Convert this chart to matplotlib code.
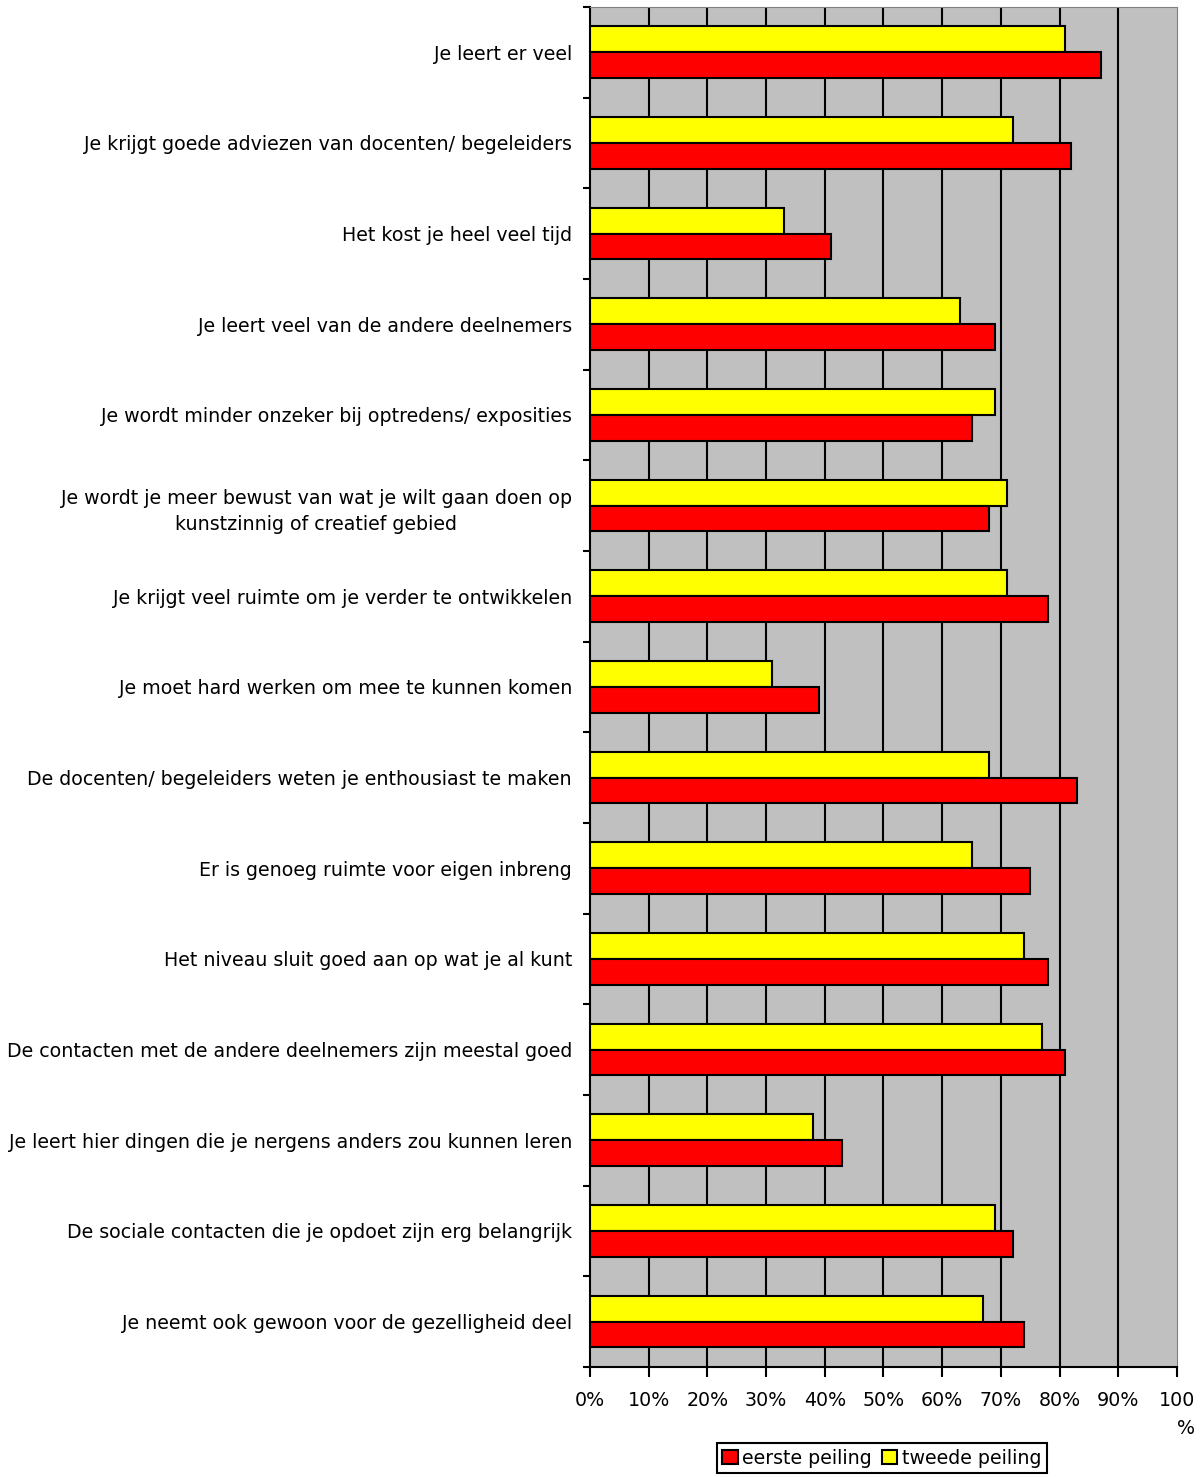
import numpy as np
import matplotlib.pyplot as plt
from matplotlib.patches import Patch

# Statements (top to bottom as in the chart)
statements = [
    "Je leert er veel",
    "Je krijgt goede adviezen van docenten/ begeleiders",
    "Het kost je heel veel tijd",
    "Je leert veel van de andere deelnemers",
    "Je wordt minder onzeker bij optredens/ exposities",
    "Je wordt je meer bewust van wat je wilt gaan doen op\nkunstzinnig of creatief gebied",
    "Je krijgt veel ruimte om je verder te ontwikkelen",
    "Je moet hard werken om mee te kunnen komen",
    "De docenten/ begeleiders weten je enthousiast te maken",
    "Er is genoeg ruimte voor eigen inbreng",
    "Het niveau sluit goed aan op wat je al kunt",
    "De contacten met de andere deelnemers zijn meestal goed",
    "Je leert hier dingen die je nergens anders zou kunnen leren",
    "De sociale contacten die je opdoet zijn erg belangrijk",
    "Je neemt ook gewoon voor de gezelligheid deel",
]

# Percentages per measurement
eerste = [87, 82, 41, 69, 65, 68, 78, 39, 83, 75, 78, 81, 43, 72, 74]
tweede = [81, 72, 33, 63, 69, 71, 71, 31, 68, 65, 74, 77, 38, 69, 67]

x_ticks = [0, 10, 20, 30, 40, 50, 60, 70, 80, 90, 100]
x_ticklabels = ["0%", "10%", "20%", "30%", "40%", "50%", "60%", "70%", "80%", "90%", "100\n%"]

fs = 13.7

fig = plt.figure(figsize=(12.03, 14.77), dpi=100)
ax = fig.add_axes([0.4904, 0.0745, 0.4880, 0.9208])
ax.set_facecolor('#c0c0c0')

pos = np.arange(len(statements))
h = 0.285

ax.barh(pos - h / 2, tweede, height=h, color='#ffff00', edgecolor='black', linewidth=1.5, zorder=3)
ax.barh(pos + h / 2, eerste, height=h, color='#ff0000', edgecolor='black', linewidth=1.5, zorder=3)

ax.set_xlim(0, 100)
ax.set_ylim(len(statements) - 0.5, -0.5)

# Vertical black gridlines
for xv in x_ticks[1:-1]:
    ax.axvline(xv, color='black', linewidth=1.5, zorder=1)

ax.set_xticks(x_ticks)
ax.set_xticklabels(x_ticklabels, fontsize=fs, linespacing=1.6)
ax.tick_params(axis='x', direction='out', length=7, width=1.5, pad=10)
for lab in ax.get_xticklabels():
    lab.set_multialignment('right')

ax.set_yticks(pos)
ax.set_yticklabels(statements, fontsize=fs, multialignment='center', linespacing=1.5)
ax.tick_params(axis='y', which='major', length=0, pad=13)
ax.set_yticks(np.arange(-0.5, len(statements) + 0.5, 1), minor=True)
ax.tick_params(axis='y', which='minor', direction='out', length=5, width=1.5)

ax.spines['left'].set_linewidth(1.5)
ax.spines['bottom'].set_linewidth(1.5)
ax.spines['top'].set_color('#808080')
ax.spines['right'].set_color('#808080')

handles = [Patch(facecolor='#ff0000', edgecolor='black', linewidth=1.5),
           Patch(facecolor='#ffff00', edgecolor='black', linewidth=1.5)]
leg = fig.legend(handles, ['eerste peiling', 'tweede peiling'], loc='center',
                 bbox_to_anchor=(0.733, 0.0128), ncol=2, fontsize=fs, frameon=True,
                 fancybox=False, framealpha=1, handlelength=0.8, handleheight=0.8,
                 handletextpad=0.25, columnspacing=0.5, borderpad=0.3, borderaxespad=0)
leg.get_frame().set_edgecolor('black')
leg.get_frame().set_linewidth(1.5)

fig.savefig('out.png', dpi=100)
